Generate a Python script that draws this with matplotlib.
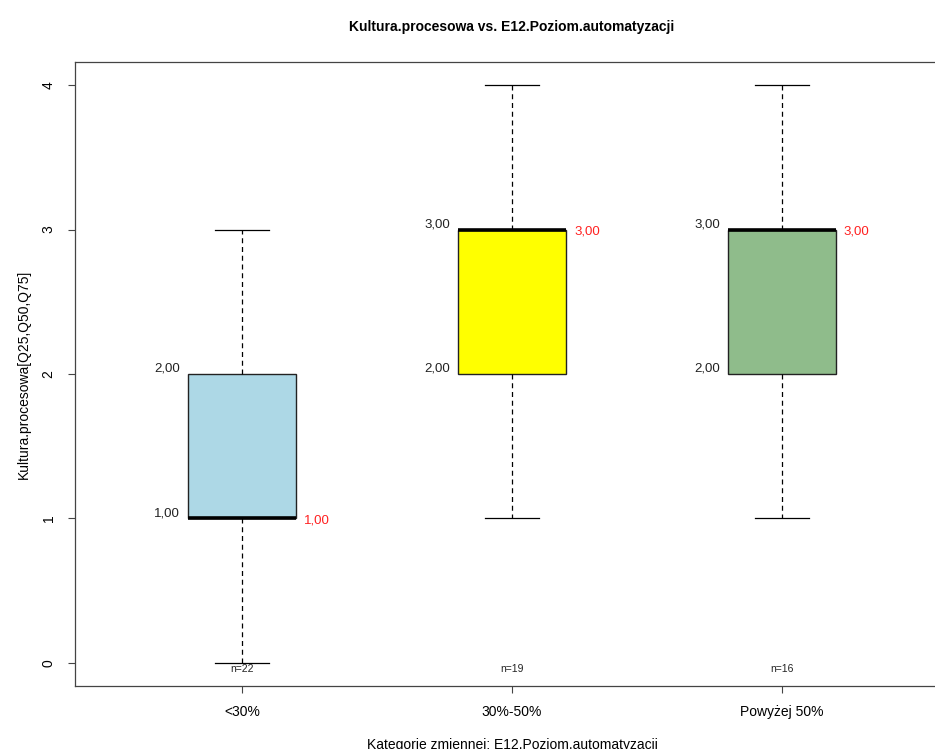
import matplotlib
matplotlib.use("Agg")
import matplotlib.pyplot as plt

plt.rcParams['font.family'] = ['Liberation Sans', 'DejaVu Sans']

categories = ["<30%", "30%-50%", "Powyżej 50%"]
mins = [0, 1, 1]
q25 = [1, 2, 2]
q50 = [1, 3, 3]
q75 = [2, 3, 3]
maxs = [3, 4, 4]
counts = [22, 19, 16]
colors = ["#ADD8E6", "#FFFF00", "#8FBC8B"]
yticks = [0, 1, 2, 3, 4]

fig = plt.figure(figsize=(9.35, 7.49), dpi=100)
ax = fig.add_axes([75/935, 1-686/749, (949-75)/935, (686-62)/749])

stats = []
for i in range(len(categories)):
    stats.append(dict(whislo=mins[i], q1=q25[i], med=q50[i], q3=q75[i],
                      whishi=maxs[i], fliers=[]))

positions = [1, 2, 3]
bp = ax.bxp(stats, positions=positions, widths=0.4, patch_artist=True,
            showfliers=False,
            boxprops=dict(edgecolor="#222222", linewidth=1.0),
            medianprops=dict(color="black", linewidth=2.6, solid_capstyle='butt'),
            whiskerprops=dict(color="black", linestyle=(0, (4, 3)), linewidth=0.9),
            capprops=dict(color="black", linewidth=0.9),
            capwidths=0.2)
for patch, c in zip(bp['boxes'], colors):
    patch.set_facecolor(c)

ax.set_xlim(0.38, 3.62)
ax.set_ylim(-0.16, 4.16)

# quartile and median annotations
for i, p in enumerate(positions):
    lx = p - 0.2 - 0.03
    ax.text(lx, q25[i] - 0.005, f"{q25[i]:.2f}".replace('.', ','), ha='right', va='bottom',
            fontsize=9.5, color="#222222")
    ax.text(lx, q75[i] - 0.005, f"{q75[i]:.2f}".replace('.', ','), ha='right', va='bottom',
            fontsize=9.5, color="#222222")
    ax.text(p + 0.2 + 0.03, q50[i] - 0.012, f"{q50[i]:.2f}".replace('.', ','), ha='left',
            va='center', fontsize=9.5, color="#FF2020")
    ax.text(p, -0.005, f"n={counts[i]}", ha='center', va='top', fontsize=7.5,
            color="#222222")

ax.set_xticks(positions)
ax.set_xticklabels(categories, fontsize=10)
ax.set_yticks(yticks)
ax.set_yticklabels([str(v) for v in yticks], rotation=90, va='center', fontsize=10)
ax.tick_params(axis='both', length=5, width=0.8, color="#444444", pad=9)
ax.tick_params(axis='x', pad=9)
for s in ax.spines.values():
    s.set_color("#444444")
    s.set_linewidth(0.9)

ax.set_ylabel("Kultura.procesowa[Q25,Q50,Q75]", fontsize=10, labelpad=8)
ax.set_xlabel("Kategorie zmiennej: E12.Poziom.automatyzacji", fontsize=10, labelpad=13)
ax.set_title("Kultura.procesowa vs. E12.Poziom.automatyzacji", fontsize=10,
             fontweight='bold', pad=22)

fig.savefig("out.png", dpi=100)
